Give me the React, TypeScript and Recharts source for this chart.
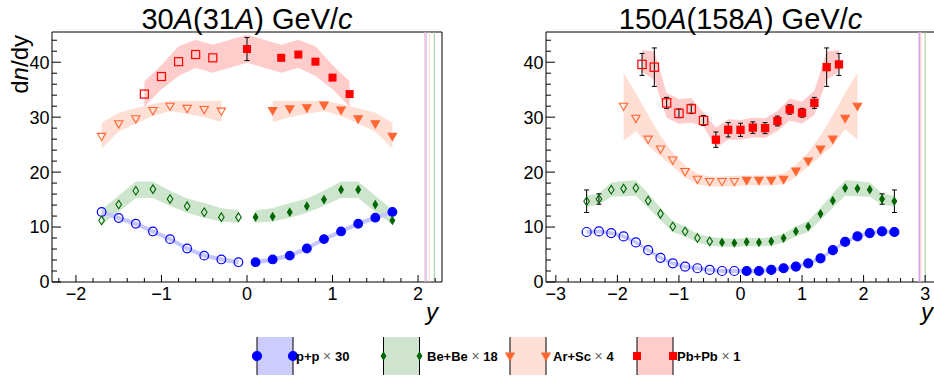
import React from 'react';
import { ComposedChart, Area, Scatter, XAxis, YAxis, ReferenceArea, ReferenceLine, ErrorBar } from 'recharts';

const FONT = '"Liberation Sans", Arial, Helvetica, sans-serif';

const BLUE = '#0000ff';
const GREEN = '#006600';
const SALMON = '#ff6633';
const RED = '#ff0000';
const BLUE_BAND = '#c6c6ff';
const GREEN_BAND = '#cce5cc';
const SALMON_BAND = '#ffdfd4';
const RED_BAND = '#ffcccc';

// ---------- tick values ----------
const xTicks30 = [-2.2, -2, -1.8, -1.6, -1.4, -1.2, -1, -0.8, -0.6, -0.4, -0.2, 0, 0.2, 0.4, 0.6, 0.8, 1, 1.2, 1.4, 1.6, 1.8, 2, 2.2];
const xTicks150 = [-3, -2.8, -2.6, -2.4, -2.2, -2, -1.8, -1.6, -1.4, -1.2, -1, -0.8, -0.6, -0.4, -0.2, 0, 0.2, 0.4, 0.6, 0.8, 1, 1.2, 1.4, 1.6, 1.8, 2, 2.2, 2.4, 2.6, 2.8, 3];
const yTicks = [0, 2, 4, 6, 8, 10, 12, 14, 16, 18, 20, 22, 24, 26, 28, 30, 32, 34, 36, 38, 40, 42, 44];
const yDomain = [0, 45.5];

// ---------- 30A(31A) GeV/c ----------
const x30neg9 = [-1.7, -1.5, -1.3, -1.1, -0.9, -0.7, -0.5, -0.3, -0.1];
const x30pos9 = [0.1, 0.3, 0.5, 0.7, 0.9, 1.1, 1.3, 1.5, 1.7];
const ppNeg30 = [12.75, 11.65, 10.6, 9.2, 7.8, 6.1, 4.8, 4.1, 3.6];
const ppPos30 = [3.6, 4.1, 4.8, 6.1, 7.8, 9.2, 10.6, 11.7, 12.75];
const ppHalf30 = [0.4, 0.4, 0.4, 0.4, 0.4, 0.4, 0.4, 0.4, 0.4];

const beNeg30 = [11.2, 14.1, 16.6, 16.9, 15.1, 13.8, 12.7, 11.8, 11.8];
const bePos30 = [11.8, 11.9, 12.7, 13.8, 15.0, 16.8, 16.8, 14.1, 11.2];
const beLoNeg30 = [10.4, 12.8, 15.3, 15.3, 13.9, 12.6, 11.7, 11.0, 10.8];
const beHiNeg30 = [13.2, 15.7, 18.3, 18.3, 16.6, 15.2, 14.4, 13.4, 13.05];
const beLoPos30 = [10.8, 11.0, 11.7, 12.6, 13.9, 15.3, 15.3, 12.8, 10.4];
const beHiPos30 = [13.05, 13.4, 14.4, 15.2, 16.6, 18.3, 18.3, 15.7, 13.2];

const x30neg8 = [-1.7, -1.5, -1.3, -1.1, -0.9, -0.7, -0.5, -0.3];
const x30pos8 = [0.3, 0.5, 0.7, 0.9, 1.1, 1.3, 1.5, 1.7];
const arNeg30 = [26.5, 28.8, 29.7, 31.2, 32.0, 31.6, 31.4, 31.1];
const arPos30 = [31.2, 31.5, 31.7, 32.2, 31.3, 29.7, 28.8, 26.5];
const arLoNeg30 = [24.3, 27.4, 28.8, 30.2, 31.1, 30.6, 30.0, 29.1];
const arHiNeg30 = [29.0, 30.8, 31.6, 32.4, 33.0, 33.0, 33.0, 33.0];
const arLoPos30 = [29.1, 30.0, 30.6, 31.1, 30.2, 28.8, 27.4, 24.3];
const arHiPos30 = [33.0, 33.0, 33.0, 33.0, 32.4, 31.6, 30.8, 29.0];

const pbXNeg30 = [-1.2, -1.0, -0.8, -0.6, -0.4];
const pbNeg30 = [34.2, 37.4, 40.1, 41.4, 40.8];
const pbXPos30 = [0, 0.4, 0.6, 0.8, 1.0, 1.2];
const pbPos30 = [42.4, 40.8, 41.4, 40.1, 37.2, 34.2];
const pbErrPos30 = [2.1, 0, 0, 0, 0, 0];
const pbBandX30 = [-1.2, -1.0, -0.8, -0.6, -0.4, 0, 0.4, 0.6, 0.8, 1.0, 1.2];
const pbLo30 = [31.9, 35.1, 37.5, 39.0, 38.1, 39.9, 38.1, 39.0, 37.5, 35.1, 31.9];
const pbHi30 = [36.5, 39.5, 42.9, 44.1, 43.2, 45.0, 43.2, 44.1, 42.9, 39.5, 36.5];

// ---------- 150A(158A) GeV/c ----------
const x150neg13 = [-2.5, -2.3, -2.1, -1.9, -1.7, -1.5, -1.3, -1.1, -0.9, -0.7, -0.5, -0.3, -0.1];
const x150pos13 = [0.1, 0.3, 0.5, 0.7, 0.9, 1.1, 1.3, 1.5, 1.7, 1.9, 2.1, 2.3, 2.5];
const ppNeg150 = [9.1, 9.2, 8.9, 8.3, 7.2, 5.8, 4.4, 3.4, 2.8, 2.5, 2.2, 2.0, 2.0];
const ppPos150 = [2.0, 2.0, 2.2, 2.5, 2.8, 3.4, 4.3, 5.8, 7.3, 8.3, 8.9, 9.2, 9.1];
const ppHalf150 = [0.35, 0.35, 0.35, 0.35, 0.35, 0.35, 0.35, 0.35, 0.35, 0.35, 0.35, 0.35, 0.35];

const beXNeg150 = [-2.5, -2.3, -2.1, -1.9, -1.7, -1.5, -1.3, -1.1, -0.9, -0.7, -0.5];
const beNeg150 = [14.7, 15.1, 16.8, 17.0, 17.1, 14.8, 12.4, 10.1, 9.2, 8.0, 7.4];
const beErrNeg150 = [2.05, 0.95, 0, 0, 0, 0, 0, 0, 0, 0, 0];
const beXPos150 = [-0.3, -0.1, 0.1, 0.3, 0.5, 0.7, 0.9, 1.1, 1.3, 1.5, 1.7, 1.9, 2.1, 2.3, 2.5];
const bePos150 = [7.2, 7.1, 7.3, 7.2, 7.4, 8.0, 9.2, 10.1, 12.4, 14.8, 17.1, 17.0, 16.8, 15.1, 14.7];
const beErrPos150 = [0, 0, 0, 0, 0, 0, 0, 0, 0, 0, 0, 0, 0, 0.95, 2.05];
const beHalfNeg150 = [1.0, 1.0, 1.3, 1.4, 1.4, 1.3, 1.1, 1.0, 0.9, 0.8, 0.8];
const beHalfPos150 = [0.75, 0.75, 0.75, 0.75, 0.8, 0.8, 0.9, 1.0, 1.1, 1.3, 1.4, 1.4, 1.3, 1.0, 1.0];

const arXNeg150 = [-1.9, -1.7, -1.5, -1.3, -1.1, -0.9, -0.7, -0.5, -0.3, -0.1];
const arNeg150 = [32.0, 29.8, 26.0, 24.2, 22.2, 20.1, 18.7, 18.3, 18.3, 18.3];
const arXPos150 = [0.1, 0.3, 0.5, 0.7, 0.9, 1.1, 1.3, 1.5, 1.7, 1.9];
const arPos150 = [18.5, 18.5, 18.5, 18.7, 20.2, 22.0, 24.2, 26.0, 29.8, 32.0];
const arLoNeg150 = [25.7, 27.5, 24.8, 22.9, 21.0, 19.0, 17.8, 17.4, 17.4, 17.4];
const arHiNeg150 = [38.1, 34.4, 30.4, 26.6, 23.5, 21.2, 19.7, 19.2, 19.2, 19.3];
const arLoPos150 = [17.6, 17.6, 17.6, 17.8, 19.1, 21.0, 22.9, 24.8, 27.8, 25.9];
const arHiPos150 = [19.4, 19.4, 19.4, 19.8, 21.3, 23.6, 26.6, 30.4, 34.4, 38.1];

const pbXNeg150 = [-1.6, -1.4, -1.2, -1.0, -0.8, -0.6];
const pbNeg150 = [39.6, 39.1, 32.6, 30.7, 31.5, 29.4];
const pbErrNeg150 = [2.0, 3.5, 1.0, 0.8, 0.85, 0.9];
const pbXPos150 = [-0.4, -0.2, 0, 0.2, 0.4, 0.6, 0.8, 1.0, 1.2, 1.4, 1.6];
const pbPos150 = [25.9, 27.7, 27.7, 28.1, 28.0, 29.3, 31.4, 30.8, 32.6, 39.1, 39.6];
const pbErrPos150 = [1.4, 1.3, 1.2, 1.05, 1.0, 0.9, 0.85, 0.8, 1.0, 3.5, 2.0];
const pbBandX150 = [-1.6, -1.4, -1.2, -1.0, -0.8, -0.6, -0.4, -0.2, 0, 0.2, 0.4, 0.6, 0.8, 1.0, 1.2, 1.4, 1.6];
const pbLo150 = [38.2, 36.8, 29.9, 28.8, 29.0, 28.3, 24.4, 25.9, 25.9, 26.3, 26.2, 27.5, 29.4, 28.8, 30.4, 36.8, 38.2];
const pbHi150 = [42.2, 42.0, 34.4, 33.3, 33.5, 30.8, 28.1, 29.6, 29.5, 29.9, 29.8, 31.1, 33.4, 32.8, 34.8, 42.0, 42.2];

// ---------- helpers to build tables ----------
const pts = (xs: number[], ys: number[], errs?: number[]) =>
  xs.map((x, i) => ({ x, y: ys[i], err: errs ? errs[i] : 0 }));
const bandLH = (xs: number[], lo: number[], hi: number[]) =>
  xs.map((x, i) => ({ x, band: [lo[i], hi[i]] }));
const bandHW = (xs: number[], ys: number[], hw: number[]) =>
  xs.map((x, i) => ({ x, band: [ys[i] - hw[i], ys[i] + hw[i]] }));

// ---------- marker shapes ----------
const circleShape = (color: string, filled: boolean, r: number) => (p: any) =>
  <circle cx={p.cx} cy={p.cy} r={r} fill={filled ? color : 'none'} stroke={color} strokeWidth={1.2} />;
const diamondShape = (color: string, filled: boolean) => (p: any) => {
  const w = filled ? 2.3 : 2.8;
  const h = filled ? 3.8 : 4.3;
  return <path d={`M${p.cx},${p.cy - h}L${p.cx + w},${p.cy}L${p.cx},${p.cy + h}L${p.cx - w},${p.cy}Z`}
    fill={filled ? color : 'none'} stroke={color} strokeWidth={1.1} />;
};
const triShape = (color: string, filled: boolean) => (p: any) => {
  const w = 4.2;
  return <path d={`M${p.cx - w},${p.cy - 3}L${p.cx + w},${p.cy - 3}L${p.cx},${p.cy + 4.3}Z`}
    fill={filled ? color : 'none'} stroke={color} strokeWidth={1.1} strokeLinejoin="miter" />;
};
const squareShape = (color: string, filled: boolean, s: number) => (p: any) =>
  <rect x={p.cx - s / 2} y={p.cy - s / 2} width={s} height={s}
    fill={filled ? color : 'none'} stroke={color} strokeWidth={filled ? 0 : 1.2} />;

// ---------- ticks ----------
const fmt = (v: number) => (v < 0 ? '\u2212' + Math.abs(v) : String(v));
const XTick = (props: any) => {
  const { x, y, payload } = props;
  const v = payload.value;
  const major = Math.abs(v - Math.round(v)) < 1e-6;
  return (
    <g>
      <line x1={x} x2={x} y1={y} y2={y - (major ? 7 : 4)} stroke="#000" strokeWidth={1} />
      {major && (
        <text x={x} y={y + 18} textAnchor="middle" fontSize={18} fontFamily={FONT} fill="#000">{fmt(Math.round(v))}</text>
      )}
    </g>
  );
};
const YTick = (props: any) => {
  const { x, y, payload } = props;
  const v = payload.value;
  const major = v % 10 === 0;
  return (
    <g>
      <line x1={x} x2={x + (major ? 9 : 5)} y1={y} y2={y} stroke="#000" strokeWidth={1} />
      {major && (
        <text x={x - 2.5} y={y + 6.4} textAnchor="end" fontSize={18} fontFamily={FONT} fill="#000">{String(v)}</text>
      )}
    </g>
  );
};

type Band = { data: any[]; fill: string };
type Series = { data: any[]; shape: any; err?: boolean };

const Panel = (props: {
  width: number; yw: number; mr: number; xDomain: number[]; xTicks: number[];
  bands: Band[]; series: Series[]; lines: { x: number; c: string }[];
}) => {
  const { width, yw, mr, xDomain, xTicks, bands, series, lines } = props;
  return (
    <ComposedChart width={width} height={377} margin={{ top: 32, right: mr, bottom: 65, left: 0 }}>
      <XAxis type="number" dataKey="x" domain={xDomain} allowDataOverflow ticks={xTicks} interval={0}
        tick={<XTick />} tickLine={false} axisLine={false} tickSize={0} tickMargin={0} height={30} />
      <YAxis type="number" dataKey="y" domain={yDomain} allowDataOverflow ticks={yTicks} interval={0}
        tick={<YTick />} tickLine={false} axisLine={false} tickSize={0} tickMargin={0} width={yw} />
      {bands.map((b, i) => (
        <Area key={'b' + i} data={b.data} dataKey="band" type="linear" stroke="none" fill={b.fill}
          fillOpacity={1} isAnimationActive={false} dot={false} activeDot={false} />
      ))}
      {lines.map((l, i) => (
        <ReferenceLine key={'l' + i} x={l.x} stroke={l.c} strokeWidth={1} />
      ))}
      {series.map((s, i) => (
        <Scatter key={'s' + i} data={s.data} shape={s.shape} isAnimationActive={false}>
          {s.err ? <ErrorBar dataKey="err" direction="y" width={2.5} stroke="#000" strokeWidth={1} /> : null}
        </Scatter>
      ))}
      <ReferenceArea x1={xDomain[0]} x2={xDomain[1]} y1={yDomain[0]} y2={yDomain[1]} fill="none"
        stroke="#000" strokeWidth={1} ifOverflow="visible" />
    </ComposedChart>
  );
};

const bands30: Band[] = [
  { data: bandLH(pbBandX30, pbLo30, pbHi30), fill: RED_BAND },
  { data: bandLH(x30neg8, arLoNeg30, arHiNeg30), fill: SALMON_BAND },
  { data: bandLH(x30pos8, arLoPos30, arHiPos30), fill: SALMON_BAND },
  { data: bandLH(x30neg9, beLoNeg30, beHiNeg30), fill: GREEN_BAND },
  { data: bandLH(x30pos9, beLoPos30, beHiPos30), fill: GREEN_BAND },
  { data: bandHW(x30neg9, ppNeg30, ppHalf30), fill: BLUE_BAND },
  { data: bandHW(x30pos9, ppPos30, ppHalf30), fill: BLUE_BAND },
];
const series30: Series[] = [
  { data: pts(x30neg9, ppNeg30), shape: circleShape(BLUE, false, 4.3) },
  { data: pts(x30pos9, ppPos30), shape: circleShape(BLUE, true, 4.3) },
  { data: pts(x30neg9, beNeg30), shape: diamondShape(GREEN, false) },
  { data: pts(x30pos9, bePos30), shape: diamondShape(GREEN, true) },
  { data: pts(x30neg8, arNeg30), shape: triShape(SALMON, false) },
  { data: pts(x30pos8, arPos30), shape: triShape(SALMON, true) },
  { data: pts(pbXNeg30, pbNeg30), shape: squareShape(RED, false, 8) },
  { data: pts(pbXPos30, pbPos30, pbErrPos30), shape: squareShape(RED, true, 8), err: true },
];
const lines30 = [
  { x: 2.08, c: '#ffb0b0' },
  { x: 2.095, c: '#b4b4ff' },
  { x: 2.13, c: '#ffd2c4' },
  { x: 2.19, c: '#9ccc9c' },
];

const bands150: Band[] = [
  { data: bandLH(pbBandX150, pbLo150, pbHi150), fill: RED_BAND },
  { data: bandLH([...arXNeg150, ...arXPos150], [...arLoNeg150, ...arLoPos150], [...arHiNeg150, ...arHiPos150]), fill: SALMON_BAND },
  { data: bandHW([...beXNeg150, ...beXPos150], [...beNeg150, ...bePos150], [...beHalfNeg150, ...beHalfPos150]), fill: GREEN_BAND },
  { data: bandHW([...x150neg13, ...x150pos13], [...ppNeg150, ...ppPos150], [...ppHalf150, ...ppHalf150]), fill: BLUE_BAND },
];
const series150: Series[] = [
  { data: pts(x150neg13, ppNeg150), shape: circleShape(BLUE, false, 4.5) },
  { data: pts(x150pos13, ppPos150), shape: circleShape(BLUE, true, 4.5) },
  { data: pts(beXNeg150, beNeg150, beErrNeg150), shape: diamondShape(GREEN, false), err: true },
  { data: pts(beXPos150, bePos150, beErrPos150), shape: diamondShape(GREEN, true), err: true },
  { data: pts(arXNeg150, arNeg150), shape: triShape(SALMON, false) },
  { data: pts(arXPos150, arPos150), shape: triShape(SALMON, true) },
  { data: pts(pbXNeg150, pbNeg150, pbErrNeg150), shape: squareShape(RED, false, 8.3), err: true },
  { data: pts(pbXPos150, pbPos150, pbErrPos150), shape: squareShape(RED, true, 8.3), err: true },
];
const lines150 = [
  { x: 2.9, c: '#ffa8c8' },
  { x: 2.91, c: '#c0a0ff' },
  { x: 2.93, c: '#ffc4c4' },
  { x: 3.0, c: '#9ccc9c' },
];

// ---------- legend ----------
const legendItems = [
  { name: 'p+p', mult: '30', color: BLUE, band: '#ccccff', marker: 'circle', bx: 257, tx: 296 },
  { name: 'Be+Be', mult: '18', color: GREEN, band: '#cfe3cf', marker: 'diamond', bx: 383.5, tx: 427 },
  { name: 'Ar+Sc', mult: '4', color: SALMON, band: '#ffe0d6', marker: 'tri', bx: 510, tx: 553 },
  { name: 'Pb+Pb', mult: '1', color: RED, band: '#ffcccc', marker: 'square', bx: 637, tx: 677 },
];

const legendMarker = (kind: string, color: string, cx: number, cy: number, key: string) => {
  const p = { cx, cy };
  if (kind === 'circle') return <g key={key}>{circleShape(color, true, 4.5)(p)}</g>;
  if (kind === 'diamond') return <g key={key}>{diamondShape(color, true)(p)}</g>;
  if (kind === 'tri') return <g key={key}>{triShape(color, true)(p)}</g>;
  return <g key={key}>{squareShape(color, true, 8)(p)}</g>;
};

export default function App() {
  return (
    <div style={{ position: 'absolute', left: 0, top: 0, width: 934, height: 377, overflow: 'hidden', background: '#fff' }}>
      <div style={{ position: 'absolute', left: 0, top: 0 }}>
        <Panel width={467} yw={52} mr={25} xDomain={[-2.28, 2.28]} xTicks={xTicks30}
          bands={bands30} series={series30} lines={lines30} />
      </div>
      <div style={{ position: 'absolute', left: 467, top: 0 }}>
        <Panel width={470} yw={79} mr={2} xDomain={[-3.16, 3.16]} xTicks={xTicks150}
          bands={bands150} series={series150} lines={lines150} />
      </div>
      <svg width={934} height={377} style={{ position: 'absolute', left: 0, top: 0, pointerEvents: 'none' }}
        fontFamily={FONT}>
        <text x={247} y={29} textAnchor="middle" fontSize={29} fill="#000">
          30<tspan fontStyle="italic">A</tspan>(31<tspan fontStyle="italic">A</tspan>) GeV/<tspan fontStyle="italic">c</tspan>
        </text>
        <text x={740.5} y={29} textAnchor="middle" fontSize={29} fill="#000">
          150<tspan fontStyle="italic">A</tspan>(158<tspan fontStyle="italic">A</tspan>) GeV/<tspan fontStyle="italic">c</tspan>
        </text>
        <text transform="translate(28,35) rotate(-90)" textAnchor="end" fontSize={24} fill="#000">
          d<tspan fontStyle="italic">n</tspan>/dy
        </text>
        <text x={432} y={320} textAnchor="middle" fontSize={24} fontStyle="italic" fill="#000">y</text>
        <text x={927} y={320} textAnchor="middle" fontSize={24} fontStyle="italic" fill="#000">y</text>
        {legendItems.map((it) => (
          <g key={it.name}>
            <rect x={it.bx} y={337} width={36} height={38} fill={it.band} />
            <line x1={it.bx} x2={it.bx} y1={337} y2={375} stroke="#000" strokeWidth={1} />
            <line x1={it.bx + 36} x2={it.bx + 36} y1={337} y2={375} stroke="#000" strokeWidth={1} />
            {legendMarker(it.marker, it.color, it.bx, 356, 'a')}
            {legendMarker(it.marker, it.color, it.bx + 36, 356, 'b')}
            <text x={it.tx} y={360.5} fontSize={13} fontWeight="bold" fill="#000">
              {it.name}{' '}<tspan fontWeight="normal" fill="#666" fontSize={14}>{'\u00d7'}</tspan>{' '}{it.mult}
            </text>
          </g>
        ))}
      </svg>
    </div>
  );
}
